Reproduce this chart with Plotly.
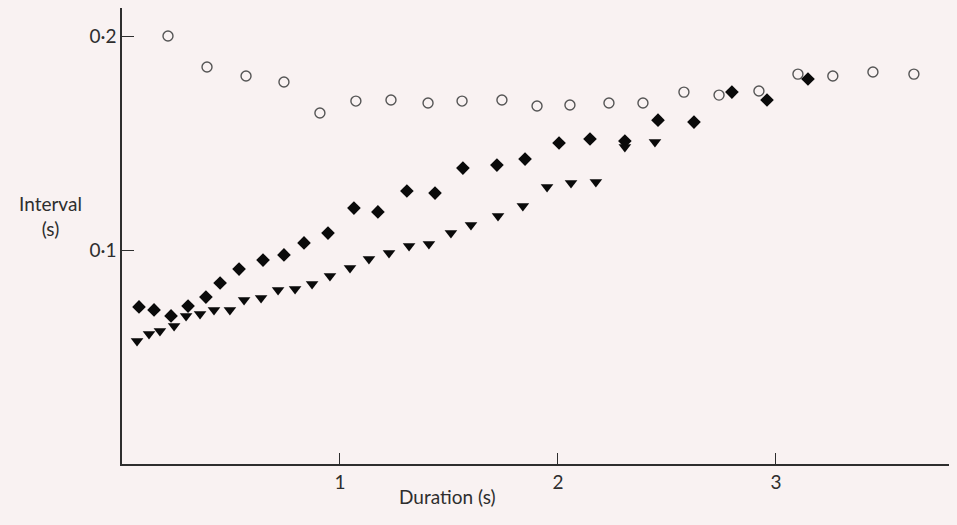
import plotly.graph_objects as go

# Open circles
circ_x = [0.211, 0.390, 0.569, 0.743, 0.908, 1.073, 1.234, 1.404, 1.560, 1.743, 1.904,
          2.055, 2.234, 2.390, 2.578, 2.739, 2.922, 3.101, 3.261, 3.445, 3.633]
circ_y = [0.2000, 0.1855, 0.1813, 0.1785, 0.1640, 0.1696, 0.1701, 0.1687, 0.1696, 0.1701, 0.1673,
          0.1678, 0.1687, 0.1687, 0.1738, 0.1724, 0.1743, 0.1822, 0.1813, 0.1832, 0.1822]

# Filled diamonds
dia_x = [0.078, 0.147, 0.225, 0.303, 0.385, 0.450, 0.537, 0.647, 0.743, 0.835, 0.945,
         1.064, 1.174, 1.307, 1.436, 1.564, 1.720, 1.849, 2.005, 2.147, 2.307, 2.459,
         2.624, 2.798, 2.959, 3.147]
dia_y = [0.0734, 0.0720, 0.0692, 0.0738, 0.0780, 0.0846, 0.0911, 0.0953, 0.0977, 0.1033, 0.1079,
         0.1196, 0.1178, 0.1276, 0.1266, 0.1383, 0.1397, 0.1425, 0.1500, 0.1519, 0.1509, 0.1607,
         0.1598, 0.1738, 0.1701, 0.1799]

# Filled down-triangles
tri_x = [0.069, 0.124, 0.174, 0.239, 0.294, 0.358, 0.422, 0.495, 0.560, 0.638, 0.716,
         0.794, 0.872, 0.954, 1.046, 1.133, 1.225, 1.317, 1.408, 1.509, 1.601, 1.725,
         1.839, 1.950, 2.060, 2.174, 2.307, 2.445]
tri_y = [0.0575, 0.0607, 0.0621, 0.0645, 0.0692, 0.0701, 0.0720, 0.0720, 0.0766, 0.0776, 0.0813,
         0.0818, 0.0841, 0.0879, 0.0916, 0.0958, 0.0986, 0.1019, 0.1028, 0.1079, 0.1117, 0.1159,
         0.1206, 0.1294, 0.1313, 0.1318, 0.1481, 0.1505]

x_ticks = [1, 2, 3]
x_ticktext = ["1", "2", "3"]
y_ticks = [0.1, 0.2]
y_ticktext = ["0·1", "0·2"]

BG = "#f9f2f2"
INK = "#2e2e2e"
FONT = "Lato"

fig = go.Figure()
fig.add_trace(go.Scatter(x=circ_x, y=circ_y, mode="markers",
                         marker=dict(symbol="circle-open", size=10, color="#555555",
                                     line=dict(width=1.4, color="#555555"))))
fig.add_trace(go.Scatter(x=dia_x, y=dia_y, mode="markers",
                         marker=dict(symbol="diamond", size=10.5, color="#0a0a0a")))
fig.add_trace(go.Scatter(x=tri_x, y=tri_y, mode="markers",
                         marker=dict(symbol="triangle-down", size=11, color="#0a0a0a")))

fig.update_layout(
    width=957, height=525,
    margin=dict(l=122, r=8, t=8, b=61),
    paper_bgcolor=BG, plot_bgcolor=BG,
    showlegend=False,
    font=dict(family=FONT, size=19, color=INK),
    xaxis=dict(range=[0, 3.794], showgrid=False, zeroline=False,
               showline=True, linecolor=INK, linewidth=1.5,
               ticks="inside", ticklen=11, tickwidth=1.3, tickcolor=INK,
               tickvals=x_ticks, ticktext=x_ticktext,
               tickfont=dict(family=FONT, size=19, color=INK)),
    yaxis=dict(range=[0, 0.2131], showgrid=False, zeroline=False,
               showline=True, linecolor=INK, linewidth=1.5,
               ticks="inside", ticklen=12, tickwidth=1.3, tickcolor=INK,
               tickvals=y_ticks, ticktext=y_ticktext,
               tickfont=dict(family=FONT, size=19, color=INK)),
    annotations=[
        dict(text="Interval<br>(s)", xref="paper", yref="y", x=-0.087, y=0.116,
             xanchor="center", yanchor="middle", showarrow=False,
             font=dict(family=FONT, size=19, color=INK)),
        dict(text="Duration (s)", xref="x", yref="paper", x=1.495, y=-0.072,
             xanchor="center", yanchor="middle", showarrow=False,
             font=dict(family=FONT, size=19, color=INK)),
    ],
)

fig.write_html(
    "out.html",
    config={"displayModeBar": False},
    post_script="document.body.style.margin='0';document.body.style.background='" + BG + "';",
)
